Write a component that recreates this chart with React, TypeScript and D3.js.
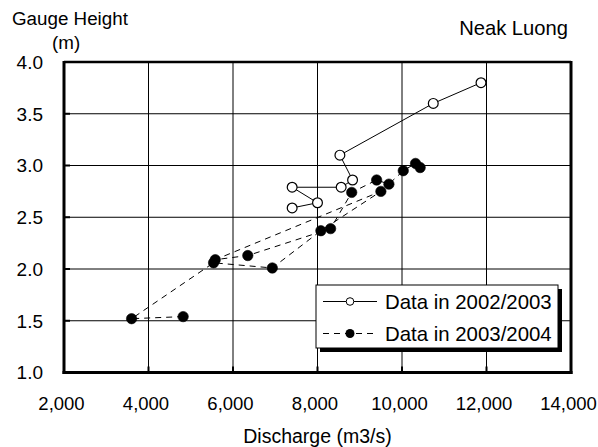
import React from "react";
import * as d3 from "d3";

// Rating data at Neak Luong: discharge (m3/s) vs gauge height (m)
const discharge2002 = [11870, 10740, 8530, 8830, 8560, 7400, 8000, 7400];
const height2002 = [3.8, 3.6, 3.1, 2.86, 2.79, 2.79, 2.64, 2.59];

const discharge2003 = [4820, 3600, 5540, 6930, 8080, 9500, 5580, 6350, 8310, 8810, 9400, 9690, 10030, 10320, 10430];
const height2003 = [1.54, 1.52, 2.06, 2.01, 2.37, 2.75, 2.09, 2.13, 2.39, 2.74, 2.86, 2.82, 2.95, 3.02, 2.98];

const xTicks = [2000, 4000, 6000, 8000, 10000, 12000, 14000];
const yTicks = [1.0, 1.5, 2.0, 2.5, 3.0, 3.5, 4.0];

const seriesNames = ["Data in 2002/2003", "Data in 2003/2004"];

const W = 598;
const H = 447;
const left = 64;
const right = 571;
const top = 62;
const bottom = 372.5;
const FONT = "'Liberation Sans', Arial, sans-serif";

export default function App() {
  const x = d3.scaleLinear().domain([2000, 14000]).range([left, right]);
  const y = d3.scaleLinear().domain([1, 4]).range([bottom, top]);
  const fmt = d3.format(",");

  const pts2002 = discharge2002.map((q, i) => [q, height2002[i]] as [number, number]);
  const pts2003 = discharge2003.map((q, i) => [q, height2003[i]] as [number, number]);
  const line = d3
    .line<[number, number]>()
    .x((d) => x(d[0]))
    .y((d) => y(d[1]));

  const legX = 316;
  const legY = 285;
  const legW = 242;
  const legH = 63;

  return (
    <svg
      width={W}
      height={H}
      style={{ position: "absolute", left: 0, top: 0, background: "#fff" }}
      fontFamily={FONT}
    >
      <rect x={0} y={0} width={W} height={H} fill="#fff" />

      {/* grid */}
      {xTicks.slice(1, -1).map((t) => (
        <line key={"gx" + t} x1={x(t)} x2={x(t)} y1={top} y2={bottom} stroke="#000" strokeWidth={1} />
      ))}
      {yTicks.slice(1, -1).map((t) => (
        <line key={"gy" + t} x1={left} x2={right} y1={y(t)} y2={y(t)} stroke="#000" strokeWidth={1} />
      ))}

      {/* 2003/2004 series */}
      <path d={line(pts2003) || ""} fill="none" stroke="#000" strokeWidth={1} strokeDasharray="6,5" />
      {pts2003.map((d, i) => (
        <circle key={"b" + i} cx={x(d[0])} cy={y(d[1])} r={5.2} fill="#000" stroke="#000" strokeWidth={0.6} />
      ))}

      {/* 2002/2003 series */}
      <path d={line(pts2002) || ""} fill="none" stroke="#000" strokeWidth={1} />
      {pts2002.map((d, i) => (
        <circle key={"w" + i} cx={x(d[0])} cy={y(d[1])} r={4.9} fill="#fff" stroke="#000" strokeWidth={1.2} />
      ))}

      {/* frame */}
      <line x1={left} x2={right} y1={top} y2={top} stroke="#000" strokeWidth={2.5} />
      <line x1={right} x2={right} y1={top - 1} y2={bottom + 1.5} stroke="#000" strokeWidth={3} />
      <line x1={left} x2={left} y1={top - 1} y2={bottom + 1.5} stroke="#000" strokeWidth={3} />
      <line x1={left - 1.5} x2={right + 1.5} y1={bottom} y2={bottom} stroke="#000" strokeWidth={3} />

      {/* ticks */}
      {yTicks.map((t) => (
        <line key={"ty" + t} x1={left} x2={left + 6} y1={y(t)} y2={y(t)} stroke="#000" strokeWidth={2} />
      ))}
      {xTicks.map((t) => (
        <line key={"tx" + t} x1={x(t)} x2={x(t)} y1={bottom} y2={bottom - 6} stroke="#000" strokeWidth={2} />
      ))}

      {/* tick labels */}
      {yTicks.map((t) => (
        <text key={"ly" + t} x={43} y={y(t) + 6.8} textAnchor="end" fontSize={19} fill="#000">
          {t.toFixed(1)}
        </text>
      ))}
      {xTicks.map((t) => (
        <text key={"lx" + t} x={x(t) - 2.5} y={410} textAnchor="middle" fontSize={18.5} fill="#000">
          {fmt(t)}
        </text>
      ))}

      {/* titles */}
      <text x={12} y={25} fontSize={18.8} fill="#000">Gauge Height</text>
      <text x={52} y={49} fontSize={18.8} fill="#000">(m)</text>
      <text x={568} y={35} textAnchor="end" fontSize={20.2} fill="#000">Neak Luong</text>
      <text x={(left + right) / 2} y={443} textAnchor="middle" fontSize={19.5} fill="#000">Discharge (m3/s)</text>

      {/* legend */}
      <rect x={legX + 4} y={legY + 4} width={legW} height={legH} fill="#000" />
      <rect x={legX} y={legY} width={legW} height={legH} fill="#fff" stroke="#000" strokeWidth={1} />
      <line x1={323} x2={377} y1={301.5} y2={301.5} stroke="#000" strokeWidth={1} />
      <circle cx={350} cy={301.5} r={3.8} fill="#fff" stroke="#000" strokeWidth={1} />
      <text x={385} y={308.5} fontSize={20.4} fill="#000">{seriesNames[0]}</text>
      <line x1={323} x2={377} y1={333.5} y2={333.5} stroke="#000" strokeWidth={1} strokeDasharray="6,5" />
      <circle cx={350} cy={333.5} r={4.5} fill="#000" />
      <text x={385} y={340.5} fontSize={20.4} fill="#000">{seriesNames[1]}</text>
    </svg>
  );
}
